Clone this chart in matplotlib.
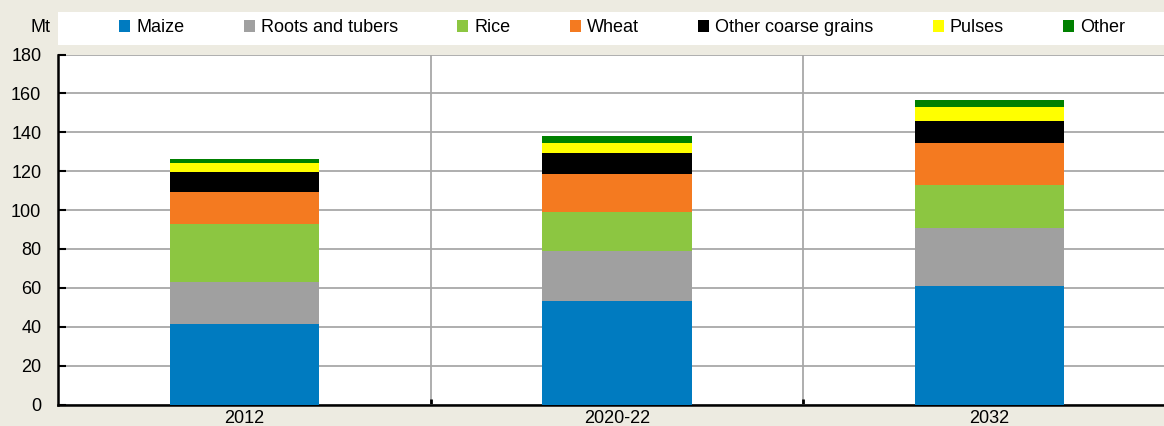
import numpy as np
import matplotlib
matplotlib.use("Agg")
import matplotlib.pyplot as plt
import matplotlib.patches as mpatches

plt.rcParams["font.family"] = ["Liberation Sans", "DejaVu Sans"]

periods = ["2012", "2020-22", "2032"]
series = ["Maize", "Roots and tubers", "Rice", "Wheat",
          "Other coarse grains", "Pulses", "Other"]
maize = [41.6, 53.4, 61.0]
roots = [21.6, 25.4, 29.8]
rice = [29.5, 20.1, 22.0]
wheat = [16.5, 19.7, 21.7]
coarse = [10.6, 10.8, 11.2]
pulses = [4.3, 5.3, 7.2]
other = [2.2, 3.4, 3.7]
values = [maize, roots, rice, wheat, coarse, pulses, other]

COLORS = ["#007BC0", "#A0A0A0", "#8CC641", "#F47A20", "#000000",
          "#FFFF00", "#008000"]
BG = "#EDEBE1"

fig = plt.figure(figsize=(11.64, 4.26), dpi=100)
fig.patch.set_facecolor(BG)
W, H = 1164, 426

# plot area runs slightly past the right edge, as in the source
ax = fig.add_axes([58 / W, 21.5 / H, (1176 - 58) / W, 350 / H])
ax.set_facecolor("white")

x = np.arange(len(periods))
bottom = np.zeros(len(periods))
for name, vals, col in zip(series, values, COLORS):
    ax.bar(x, vals, width=0.40, bottom=bottom, color=col, label=name,
           edgecolor="none", zorder=3)
    bottom += np.array(vals)

ax.set_xlim(-0.5, len(periods) - 0.5)
ax.set_ylim(0, 180)
ax.set_yticks(range(0, 181, 20))
ax.set_xticks(x)
ax.set_xticklabels(periods)
ax.set_xticks(x[:-1] + 0.5, minor=True)
ax.tick_params(axis="y", direction="in", length=6, width=1.5,
               labelsize=13, pad=12, color="black")
ax.tick_params(axis="x", which="major", length=0, labelsize=13, pad=4)
ax.tick_params(axis="x", which="minor", direction="in", length=4,
               width=2, color="black")
ax.grid(True, axis="y", color="#A8A8A8", linewidth=1.3, zorder=1)
for xs in x[:-1] + 0.5:
    ax.axvline(xs, color="#A8A8A8", linewidth=1.3, zorder=1)

for side in ["top", "right"]:
    ax.spines[side].set_visible(False)
ax.spines["left"].set_linewidth(1.8)
ax.spines["bottom"].set_linewidth(1.8)

# legend strip
fig.patches.append(mpatches.Rectangle((58 / W, (426 - 45) / H),
                                      (W - 58) / W, 33 / H,
                                      transform=fig.transFigure,
                                      facecolor="white", edgecolor="none",
                                      zorder=0))
fig.legend(loc="center left", bbox_to_anchor=(119 / W, (426 - 28) / H),
           ncol=7, frameon=False, fontsize=13, handlelength=0.62,
           handleheight=0.62, handletextpad=0.33, columnspacing=3.28,
           borderpad=0, borderaxespad=0)

fig.text(50 / W, (426 - 27) / H, "Mt", ha="right", va="center", fontsize=13)

fig.savefig("out.png", dpi=100, facecolor=fig.get_facecolor())
